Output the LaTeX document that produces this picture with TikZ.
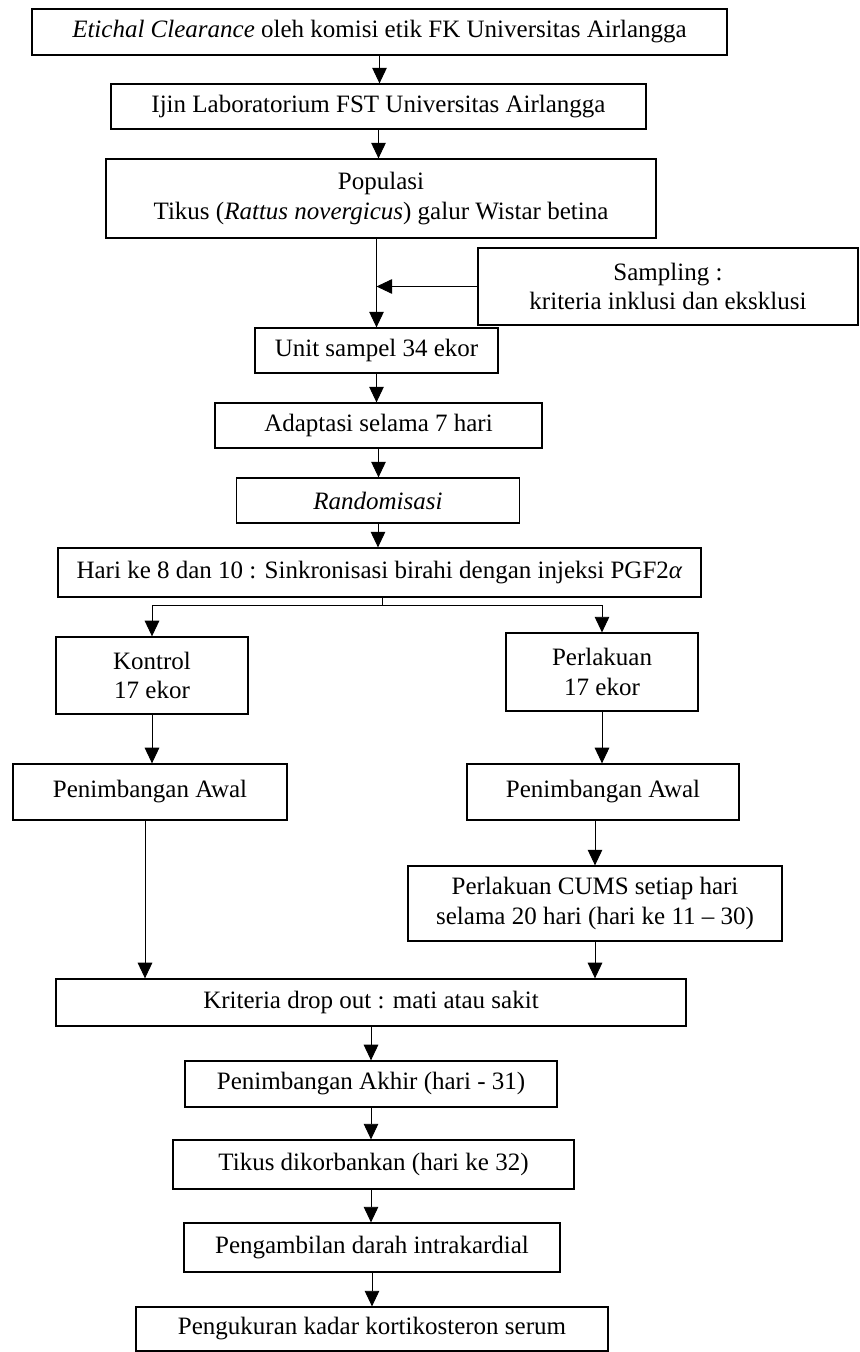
\documentclass[tikz,border=0pt]{standalone}
\usepackage{fontspec}
\setmainfont{Liberation Serif}
\usetikzlibrary{shapes,arrows.meta,positioning,calc}

\begin{document}
\begin{tikzpicture}[x=0.48pt, y=-0.48pt,
    box/.style={draw, line width=0.6pt, inner sep=0pt, align=center,
        font=\fontsize{12}{14}\selectfont},
    arr/.style={line width=0.45pt, -{Triangle[length=7.5pt, width=7pt]}},
    ln/.style={line width=0.45pt}]
        \useasboundingbox (0,0) rectangle (859,1352);

        \node[box, minimum width=333.6pt, minimum height=22.1pt] (ethic) at (379.5,32) {\textit{Etichal Clearance} oleh komisi etik FK Universitas Airlangga} ;
        \node[box, minimum width=256.8pt, minimum height=21.6pt] (ijin) at (378.5,106.5) {Ijin Laboratorium FST Universitas Airlangga} ;
        \node[box, minimum width=264pt, minimum height=37.9pt] (populasi) at (381,198.5) {Populasi\\Tikus (\textit{Rattus novergicus}) galur Wistar betina} ;
        \node[box, minimum width=182.4pt, minimum height=37pt] (sampling) at (668,286.5) {Sampling :\\kriteria inklusi dan eksklusi} ;
        \node[box, minimum width=116.6pt, minimum height=21.6pt] (unit) at (376.5,350.5) {Unit sampel 34 ekor} ;
        \node[box, minimum width=157pt, minimum height=21.6pt] (adaptasi) at (378.5,425.5) {Adaptasi selama 7 hari} ;
        \node[box, minimum width=135.8pt, minimum height=21.6pt] (acak) at (378,500.5) {\textit{Randomisasi}} ;
        \node[box, minimum width=308.6pt, minimum height=23.5pt] (sinkron) at (379.5,572.5) {Hari ke 8 dan 10 : Sinkronisasi birahi dengan injeksi PGF2\textit{α}} ;

        \node[box, minimum width=92.2pt, minimum height=37pt] (kontrol) at (152,675.5) {Kontrol\\17 ekor} ;
        \node[box, minimum width=92.2pt, minimum height=37.4pt] (perlakuan) at (602,672) {Perlakuan\\17 ekor} ;
        \node[box, minimum width=131.5pt, minimum height=26.9pt] (awalK) at (150,792) {Penimbangan Awal} ;
        \node[box, minimum width=130.6pt, minimum height=26.9pt] (awalP) at (603,792) {Penimbangan Awal} ;
        \node[box, minimum width=179.5pt, minimum height=36pt] (cums) at (595,903.5) {Perlakuan CUMS setiap hari\\selama 20 hari (hari ke 11 -- 30)} ;

        \node[box, minimum width=302.4pt, minimum height=22.6pt] (dropout) at (371,1002.5) {Kriteria drop out : mati atau sakit} ;
        \node[box, minimum width=178.6pt, minimum height=22.1pt] (akhir) at (371,1084) {Penimbangan Akhir (hari - 31)} ;
        \node[box, minimum width=192.5pt, minimum height=23.5pt] (korban) at (373.5,1164.5) {Tikus dikorbankan (hari ke 32)} ;
        \node[box, minimum width=180.5pt, minimum height=23.5pt] (darah) at (372,1247.5) {Pengambilan darah intrakardial} ;
        \node[box, minimum width=226.6pt, minimum height=21.1pt] (ukur) at (372,1329) {Pengukuran kadar kortikosteron serum} ;

        \coordinate (bagi) at (382,605) ;

        \draw[arr] (ethic.south) -- (ethic.south |- ijin.north) ;
        \draw[arr] (ijin.south) -- (ijin.south |- populasi.north) ;
        \draw[arr] (unit.north |- populasi.south) -- (unit.north) ;
        \draw[arr] (sampling.west) -- (sampling.west -| unit.north) ;
        \draw[arr] (unit.south) -- (unit.south |- adaptasi.north) ;
        \draw[arr] (adaptasi.south) -- (adaptasi.south |- acak.north) ;
        \draw[arr] (acak.south) -- (acak.south |- sinkron.north) ;

        \draw[ln] (sinkron.south -| bagi) -- (bagi) ;
        \draw[arr] (bagi) -| (kontrol.north) ;
        \draw[arr] (bagi) -| (perlakuan.north) ;
        \draw[arr] (kontrol.south) -- (kontrol.south |- awalK.north) ;
        \draw[arr] (perlakuan.south) -- (perlakuan.south |- awalP.north) ;
        \draw[arr] (cums.north |- awalP.south) -- (cums.north) ;
        \draw[arr] ([xshift=-2.4pt]awalK.south) -- ([xshift=-2.4pt]awalK.south |- dropout.north) ;
        \draw[arr] (cums.south) -- (cums.south |- dropout.north) ;

        \draw[arr] (akhir.north |- dropout.south) -- (akhir.north) ;
        \draw[arr] (akhir.south) -- (akhir.south |- korban.north) ;
        \draw[arr] (korban.south -| akhir.south) -- (akhir.south |- darah.north) ;
        \draw[arr] (darah.south) -- (darah.south |- ukur.north) ;
    \end{tikzpicture}
\end{document}
